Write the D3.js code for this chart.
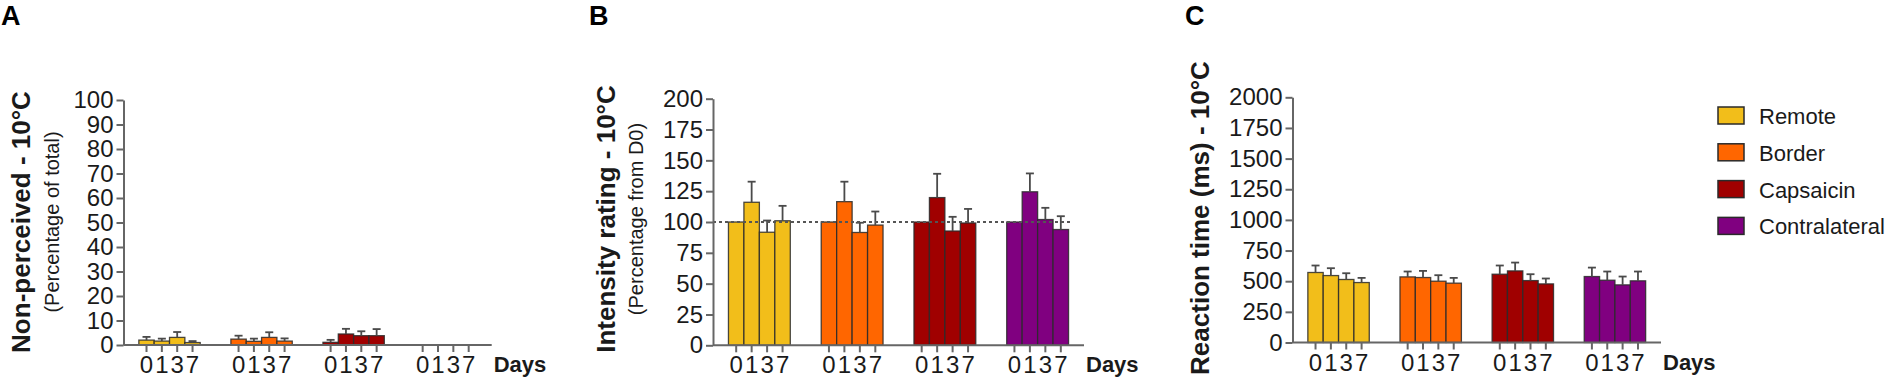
<!DOCTYPE html>
<html>
<head>
<meta charset="utf-8">
<script src="https://cdn.jsdelivr.net/npm/d3@7"></script>
<style>
  body { margin: 0; background: #fff; }
  svg { display: block; font-family: 'Liberation Sans', Arial, Helvetica, sans-serif; }
  .axis path, .axis line { stroke: #666; stroke-width: 2; }
  .axis text { fill: #1a1a1a; font-size: 24px; font-family: 'Liberation Sans', Arial, sans-serif; }
</style>
</head>
<body>
<div id="chart"></div>
<script>
// sites (groups) and days (bars inside each group)
const sites = ['Remote', 'Border', 'Capsaicin', 'Contralateral'];
const days = ['0', '1', '3', '7'];
const siteColors = ['#F2BE1A', '#FF6600', '#A00000', '#800080'];

// A - non-perceived stimuli (% of total), one row per site, one value per day
const nonPerceivedMean = [
  [2.0, 1.6, 3.1, 1.0],
  [2.4, 1.5, 3.1, 1.6],
  [1.1, 4.5, 3.8, 3.8],
  [0, 0, 0, 0],
];
const nonPerceivedSem = [
  [1.3, 1.0, 2.2, 0.6],
  [1.4, 1.1, 2.1, 1.1],
  [1.0, 2.1, 1.8, 2.7],
  [0, 0, 0, 0],
];
const nonPerceivedTicks = [0, 10, 20, 30, 40, 50, 60, 70, 80, 90, 100];

// B - intensity rating (% from D0)
const intensityMean = [
  [100, 116.0, 91.7, 101.0],
  [100, 116.5, 91.5, 97.5],
  [100, 119.8, 92.7, 99.2],
  [100, 124.5, 102.0, 93.9],
];
const intensitySem = [
  [0, 16.7, 9.5, 12.1],
  [0, 16.2, 7.9, 11.0],
  [0, 19.3, 11.5, 11.4],
  [0, 14.9, 9.5, 10.8],
];
const intensityTicks = [0, 25, 50, 75, 100, 125, 150, 175, 200];

// C - reaction time (ms)
const reactionMean = [
  [571, 546, 514, 489],
  [535, 530, 500, 484],
  [557, 584, 505, 478],
  [538, 508, 470, 503],
];
const reactionSem = [
  [57, 60, 51, 38],
  [44, 54, 49, 43],
  [71, 68, 52, 44],
  [73, 71, 68, 76],
];
const reactionTicks = [0, 250, 500, 750, 1000, 1250, 1500, 1750, 2000];

class GroupedBarChart {
  constructor(_config, _means, _sems) {
    this.config = _config;
    this.means = _means;
    this.sems = _sems;
    this.initVis();
  }

  initVis() {
    const vis = this;
    const c = vis.config;

    vis.g = c.parentElement.append('g');

    // outer scale places the site groups, inner scale places the days
    vis.xScale = d3.scaleBand()
      .domain(sites)
      .range([c.x0, c.x1])
      .padding(0);

    vis.xInner = d3.scaleBand()
      .domain(days)
      .range([0, vis.xScale.bandwidth()])
      .paddingInner(0)
      .paddingOuter(1);

    vis.yScale = d3.scaleLinear()
      .domain([0, c.yMax])
      .range([c.y0, c.y1]);

    vis.yAxis = d3.axisLeft(vis.yScale)
      .tickValues(c.yTicks)
      .tickFormat(d3.format('d'))
      .tickSize(7)
      .tickSizeOuter(0)
      .tickPadding(3);

    vis.xAxis = d3.axisBottom(vis.xInner)
      .tickSize(7)
      .tickSizeOuter(0)
      .tickPadding(4);

    vis.updateVis();
  }

  updateVis() {
    const vis = this;
    vis.rows = [];
    sites.forEach((s, i) => {
      days.forEach((d, j) => {
        vis.rows.push({ site: s, day: d, color: siteColors[i], value: vis.means[i][j], sem: vis.sems[i][j] });
      });
    });
    vis.renderVis();
  }

  renderVis() {
    const vis = this;
    const c = vis.config;
    const barX = (d) => vis.xScale(d.site) + vis.xInner(d.day);
    const midX = (d) => barX(d) + vis.xInner.bandwidth() / 2;

    // bars
    vis.g.selectAll('.bar')
      .data(vis.rows)
      .join('rect')
      .attr('class', 'bar')
      .attr('x', barX)
      .attr('width', vis.xInner.bandwidth())
      .attr('y', (d) => vis.yScale(d.value))
      .attr('height', (d) => vis.yScale(0) - vis.yScale(d.value))
      .attr('fill', (d) => d.color)
      .attr('stroke', '#2a2a2a')
      .attr('stroke-opacity', 0.85)
      .attr('stroke-width', 1.3);

    // upper error bars
    const errs = vis.rows.filter((d) => d.sem > 0);
    vis.g.selectAll('.err')
      .data(errs)
      .join('line')
      .attr('class', 'err')
      .attr('x1', midX)
      .attr('x2', midX)
      .attr('y1', (d) => vis.yScale(d.value))
      .attr('y2', (d) => vis.yScale(d.value + d.sem))
      .attr('stroke', '#4a4a4a')
      .attr('stroke-width', 1.8);

    vis.g.selectAll('.cap')
      .data(errs)
      .join('line')
      .attr('class', 'cap')
      .attr('x1', (d) => midX(d) - 4)
      .attr('x2', (d) => midX(d) + 4)
      .attr('y1', (d) => vis.yScale(d.value + d.sem))
      .attr('y2', (d) => vis.yScale(d.value + d.sem))
      .attr('stroke', '#4a4a4a')
      .attr('stroke-width', 1.8);

    // dotted reference line
    if (c.reference !== undefined) {
      const last = vis.rows[vis.rows.length - 1];
      vis.g.append('line')
        .attr('x1', c.x0)
        .attr('x2', barX(last) + vis.xInner.bandwidth() + 2)
        .attr('y1', vis.yScale(c.reference))
        .attr('y2', vis.yScale(c.reference))
        .attr('stroke', '#555')
        .attr('stroke-width', 2)
        .attr('stroke-dasharray', '3,3');
    }

    // axes
    vis.g.append('g')
      .attr('class', 'axis y-axis')
      .attr('transform', `translate(${c.x0},0)`)
      .call(vis.yAxis)
      .attr('font-size', null)
      .attr('font-family', null);

    vis.g.append('line')
      .attr('x1', c.x0)
      .attr('x2', c.x1)
      .attr('y1', vis.yScale(0))
      .attr('y2', vis.yScale(0))
      .attr('stroke', '#666')
      .attr('stroke-width', 2);

    sites.forEach((s) => {
      vis.g.append('g')
        .attr('class', 'axis x-axis')
        .attr('transform', `translate(${vis.xScale(s)},${vis.yScale(0)})`)
        .call(vis.xAxis)
        .attr('font-size', null)
        .attr('font-family', null)
        .call((g) => g.select('.domain').remove());
    });

    vis.g.append('text')
      .attr('x', c.x1 + 2)
      .attr('y', c.y0 + 27)
      .attr('font-size', 22)
      .attr('font-weight', 'bold')
      .attr('fill', '#1a1a1a')
      .text('Days');

    // axis titles
    vis.g.append('text')
      .attr('transform', `translate(${c.titleX},${c.titleY}) rotate(-90)`)
      .attr('text-anchor', 'middle')
      .attr('font-size', 26)
      .attr('font-weight', 'bold')
      .attr('fill', '#1a1a1a')
      .text(c.title);

    if (c.subtitle) {
      vis.g.append('text')
        .attr('transform', `translate(${c.subtitleX},${c.titleY}) rotate(-90)`)
        .attr('text-anchor', 'middle')
        .attr('font-size', 20)
        .attr('fill', '#1a1a1a')
        .text(c.subtitle);
    }

    // panel letter
    vis.g.append('text')
      .attr('x', c.letterX)
      .attr('y', 25)
      .attr('font-size', 27)
      .attr('font-weight', 'bold')
      .attr('fill', '#000')
      .text(c.letter);
  }
}

const svg = d3.select('#chart').append('svg')
  .attr('width', 1889)
  .attr('height', 381);

new GroupedBarChart({
  parentElement: svg,
  x0: 123.5, x1: 491.7, y0: 345, y1: 100,
  yMax: 100, yTicks: nonPerceivedTicks,
  letter: 'A', letterX: 1,
  title: 'Non-perceived - 10°C', titleX: 30, titleY: 222,
  subtitle: '(Percentage of total)', subtitleX: 59,
}, nonPerceivedMean, nonPerceivedSem);

new GroupedBarChart({
  parentElement: svg,
  x0: 713, x1: 1084, y0: 345.3, y1: 98.7,
  yMax: 200, yTicks: intensityTicks,
  letter: 'B', letterX: 589,
  title: 'Intensity rating - 10°C', titleX: 615, titleY: 219,
  subtitle: '(Percentage from D0)', subtitleX: 643,
  reference: 100,
}, intensityMean, intensitySem);

new GroupedBarChart({
  parentElement: svg,
  x0: 1292.5, x1: 1661, y0: 342.5, y1: 97.3,
  yMax: 2000, yTicks: reactionTicks,
  letter: 'C', letterX: 1185,
  title: 'Reaction time (ms) - 10°C', titleX: 1209, titleY: 218,
}, reactionMean, reactionSem);

// legend
const legend = svg.append('g')
  .attr('transform', 'translate(1718,107)');

const legendItems = legend.selectAll('.legend-item')
  .data(sites)
  .join('g')
  .attr('class', 'legend-item')
  .attr('transform', (d, i) => `translate(0,${i * 36.8})`);

legendItems.append('rect')
  .attr('width', 26)
  .attr('height', 17)
  .attr('fill', (d, i) => siteColors[i])
  .attr('stroke', '#2a2a2a')
  .attr('stroke-width', 1.5);

legendItems.append('text')
  .attr('x', 41)
  .attr('y', 17)
  .attr('font-size', 22)
  .attr('fill', '#1a1a1a')
  .text((d) => d);
</script>
</body>
</html>
